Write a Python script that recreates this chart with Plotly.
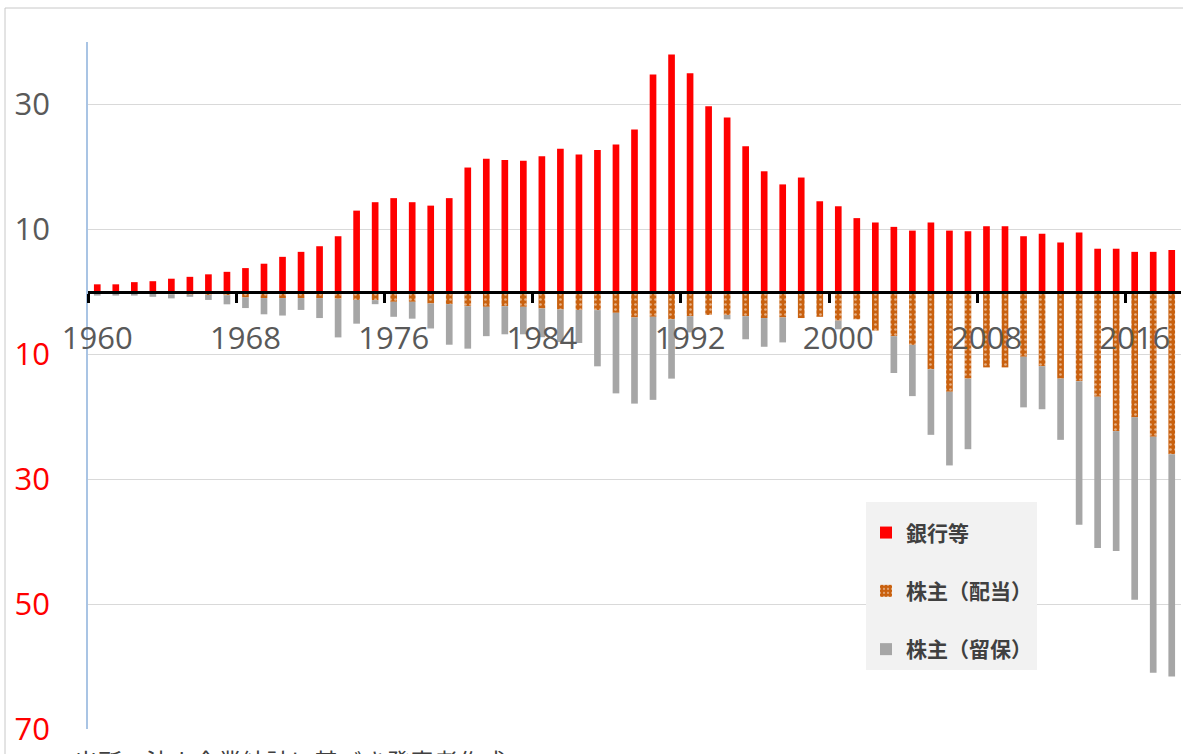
import plotly.graph_objects as go

# Fiscal years 1960-2018
years = [str(y) for y in range(1960, 2019)]

# 銀行等 (payments to banks etc.)
banks = [1.2, 1.2, 1.55, 1.7, 2.1, 2.4, 2.8, 3.2, 3.8, 4.5,
         5.6, 6.4, 7.3, 8.9, 13.0, 14.35, 15.0, 14.35, 13.8, 15.0,
         19.9, 21.3, 21.1, 21.0, 21.7, 22.9, 22.0, 22.7, 23.6, 26.0,
         34.8, 38.0, 35.0, 29.7, 27.9, 23.3, 19.3, 17.2, 18.3, 14.5,
         13.7, 11.8, 11.1, 10.4, 9.8, 11.1, 9.8, 9.7, 10.5, 10.5,
         8.9, 9.3, 7.9, 9.5, 6.9, 6.9, 6.4, 6.4, 6.7]

# 株主(配当) (dividends)
dividends = [0.3, 0.3, 0.3, 0.35, 0.4, 0.45, 0.5, 0.55, 0.9, 1.0,
             1.0, 1.0, 1.0, 1.1, 1.3, 1.33, 1.6, 1.6, 1.87, 1.97,
             2.3, 2.4, 2.3, 2.4, 2.67, 2.83, 2.9, 2.93, 3.36, 4.1,
             4.0, 4.4, 3.9, 3.7, 3.7, 3.9, 4.2, 4.1, 4.2, 4.0,
             4.6, 4.4, 6.2, 7.1, 8.5, 12.4, 16.0, 13.9, 12.1, 12.1,
             10.4, 11.9, 13.9, 14.3, 16.8, 22.3, 20.1, 23.2, 26.0]

# 株主(留保) (retained earnings)
retained = [0.3, 0.3, 0.3, 0.45, 0.65, 0.35, 0.8, 1.45, 1.7, 2.6,
            2.8, 1.9, 3.2, 6.2, 3.8, 0.65, 2.4, 2.7, 4.0, 6.5,
            6.8, 4.7, 4.5, 4.4, 4.6, 5.2, 5.3, 9.0, 12.9, 13.8,
            13.3, 9.5, 2.6, 0.0, 0.7, 3.7, 4.6, 4.0, 0.0, 0.0,
            1.4, 0.0, 0.0, 5.9, 8.2, 10.5, 11.8, 11.3, 0.0, 0.0,
            8.1, 6.9, 9.8, 23.0, 24.2, 19.2, 29.2, 37.8, 35.6]

# Axis ticks: shareholder amounts are drawn below zero, labelled as magnitudes in red
y_tickvals = [-70, -50, -30, -10, 10, 30]
y_ticktext = ['<span style="color:#ff0000">70</span>',
              '<span style="color:#ff0000">50</span>',
              '<span style="color:#ff0000">30</span>',
              '<span style="color:#ff0000">10</span>',
              '10', '30']

RED = "#ff0000"
ORANGE = "#c9610f"
GRAY = "#a6a6a6"
TEXT = "#595959"

y_min, y_max = -70, 40
PLOT_W, PLOT_H = 1093, 687
L, T = 88, 42

fig = go.Figure()
fig.add_trace(go.Bar(
    x=years, y=banks, name="銀行等", legendgroup="a",
    marker=dict(color=RED, line=dict(width=0)),
))
fig.add_trace(go.Bar(
    x=years, y=[-v for v in dividends], name="株主（配当）", legendgroup="b",
    marker=dict(color=ORANGE, line=dict(width=0),
                pattern=dict(shape=".", fgcolor="white", bgcolor=ORANGE,
                             size=5, solidity=0.22)),
))
fig.add_trace(go.Bar(
    x=years, y=[-v for v in retained], name="株主（留保）", legendgroup="c",
    marker=dict(color=GRAY, line=dict(width=0)),
))

fig.update_layout(
    width=1183, height=754,
    margin=dict(l=L, r=1183 - L - PLOT_W, t=T, b=754 - T - PLOT_H, autoexpand=False),
    paper_bgcolor="white", plot_bgcolor="white",
    barmode="relative", bargap=0.64,
    font=dict(family="Open Sans", color=TEXT),
    showlegend=True,
    legend=dict(
        x=(866 - L) / PLOT_W, y=(T + PLOT_H - 502) / PLOT_H,
        xanchor="left", yanchor="top",
        bgcolor="#f2f2f2", borderwidth=0,
        traceorder="grouped", tracegroupgap=28,
        title=dict(text=" ", font=dict(size=8)),
        font=dict(family="Noto Sans CJK JP", size=21, color="#404040", weight="bold"),
        itemclick=False,
    ),
    xaxis=dict(
        type="category", anchor="free",
        position=(0 - y_min) / (y_max - y_min),
        tickmode="linear", tick0=0, dtick=8,
        tickson="boundaries", tickangle=0, automargin=False,
        ticks="outside", ticklen=9, tickwidth=2.5, tickcolor="black",
        showline=True, linecolor="black", linewidth=2.5,
        showgrid=False, zeroline=False,
        tickfont=dict(family="Open Sans", size=31, color=TEXT),
        ticklabelstandoff=18,
    ),
    yaxis=dict(
        range=[y_min, y_max], automargin=False,
        tickmode="array", tickvals=y_tickvals, ticktext=y_ticktext,
        ticks="outside", ticklen=0,
        ticklabelstandoff=30,
        showline=True, linecolor="#a9c4e4", linewidth=1.5,
        showgrid=True, gridcolor="#d9d9d9", gridwidth=1,
        zeroline=False,
        tickfont=dict(family="Open Sans", size=31, color=TEXT),
    ),
    shapes=[dict(
        type="rect", xref="paper", yref="paper",
        x0=(5 - L) / PLOT_W, x1=(1195 - L) / PLOT_W,
        y0=(T + PLOT_H - 770) / PLOT_H, y1=(T + PLOT_H - 8) / PLOT_H,
        line=dict(color="#c8c8c8", width=1), fillcolor="rgba(0,0,0,0)",
        layer="below",
    )],
    annotations=[dict(
        text="出所：法人企業統計に基づき発表者作成",
        xref="paper", yref="paper",
        x=(72 - L) / PLOT_W, y=(T + PLOT_H - 741) / PLOT_H,
        xanchor="left", yanchor="top", showarrow=False,
        font=dict(family="Noto Sans CJK JP", size=24, color="#404040"),
    )],
)

fig.write_html("out.html")
